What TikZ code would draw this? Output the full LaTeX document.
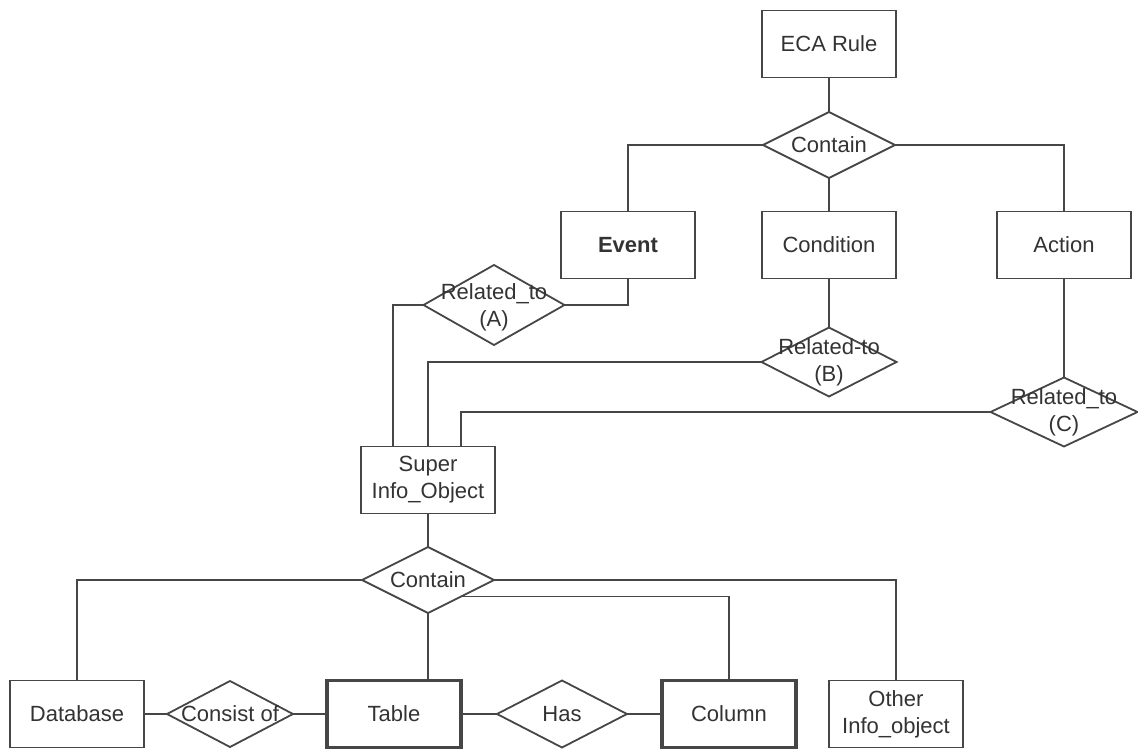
\documentclass[tikz,border=0pt]{standalone}
\usepackage{fontspec}
\setmainfont{Liberation Sans}
\usetikzlibrary{shapes.geometric,calc}
\definecolor{ink}{HTML}{333333}
\definecolor{edge}{HTML}{464646}
\tikzset{
  ent/.style={draw=edge, line width=1.8pt, fill=white, rectangle,
    minimum width=134pt, minimum height=67pt, inner sep=0pt, outer sep=0pt,
    align=center, text=ink, font=\fontsize{22}{27}\selectfont},
  strong/.style={ent, line width=3.4pt},
  rel/.style={draw=edge, line width=1.8pt, fill=white, diamond,
    inner sep=0pt, outer sep=0pt},
  reltext/.style={align=center, text=ink, inner sep=0pt,
    font=\fontsize{22}{27}\selectfont},
  link/.style={draw=edge, line width=1.8pt}
}
\begin{document}
\begin{tikzpicture}[x=1pt, y=-1pt]
\useasboundingbox (0,0) rectangle (1138,749);

% ECA rule and its parts
\node[ent] (eca) at (829,44) {ECA Rule};
\node[rel, minimum width=132pt, minimum height=66pt] (ca) at (829,145) {};
\node[reltext] (cat) at (ca) {Contain};
\node[ent, font=\fontsize{22}{27}\selectfont\bfseries] (ev) at (628,245) {Event};
\node[ent] (cond) at (829,245) {Condition};
\node[ent] (act) at (1064,245) {Action};

% Related_to relationships
\node[rel, minimum width=141pt, minimum height=80pt] (ra) at (494,305) {};
\node[reltext] (rat) at (494,307) {Related\_to\\(A)};
\node[rel, minimum width=135pt, minimum height=69pt] (rb) at (829,362) {};
\node[reltext] (rbt) at (829,362) {Related-to\\(B)};
\node[rel, minimum width=147pt, minimum height=69pt] (rc) at (1064,412) {};
\node[reltext] (rct) at (1064,412) {Related\_to\\(C)};

% Info objects
\node[ent] (so) at (428,480) {Super\\Info\_Object};
\node[rel, minimum width=132pt, minimum height=66pt] (cb) at (428,580) {};
\node[reltext] (cbt) at (cb) {Contain};
\node[ent] (db) at (77,714) {Database};
\node[rel, minimum width=126pt, minimum height=66pt] (con) at (230,714) {};
\node[reltext] (cont) at (230,714) {Consist of};
\node[strong] (tab) at (394,714) {Table};
\node[rel, minimum width=130pt, minimum height=67pt] (has) at (562,714) {};
\node[reltext] (hast) at (has) {Has};
\node[strong] (col) at (729,714) {Column};
\node[ent] (oth) at (896,714) {Other\\Info\_object};

% connectors
\draw[link] (eca.south) -- (ca.north);
\draw[link] (ca.west) -| (ev.north);
\draw[link] (ca.south) -- (cond.north);
\draw[link] (ca.east) -| (act.north);
\draw[link] (ev.south) |- (ra.east);
\draw[link] (ra.west) -| ([xshift=-35pt]so.north);
\draw[link] (cond.south) -- (rb.north);
\draw[link] (rb.west) -| (so.north);
\draw[link] (act.south) -- (rc.north);
\draw[link] (rc.west) -| ([xshift=33pt]so.north);
\draw[link] (so.south) -- (cb.north);
\draw[link] (cb.west) -| (db.north);
\draw[link] (cb.east) -| (oth.north);
\draw[link] (cb.south) -- ([xshift=34pt]tab.north);
\draw[link] ($(cb.east)!0.5!(cb.south)$) -| (col.north);
\draw[link] (db.east) -- (con.west);
\draw[link] (con.east) -- (tab.west);
\draw[link] (tab.east) -- (has.west);
\draw[link] (has.east) -- (col.west);
\end{tikzpicture}
\end{document}
